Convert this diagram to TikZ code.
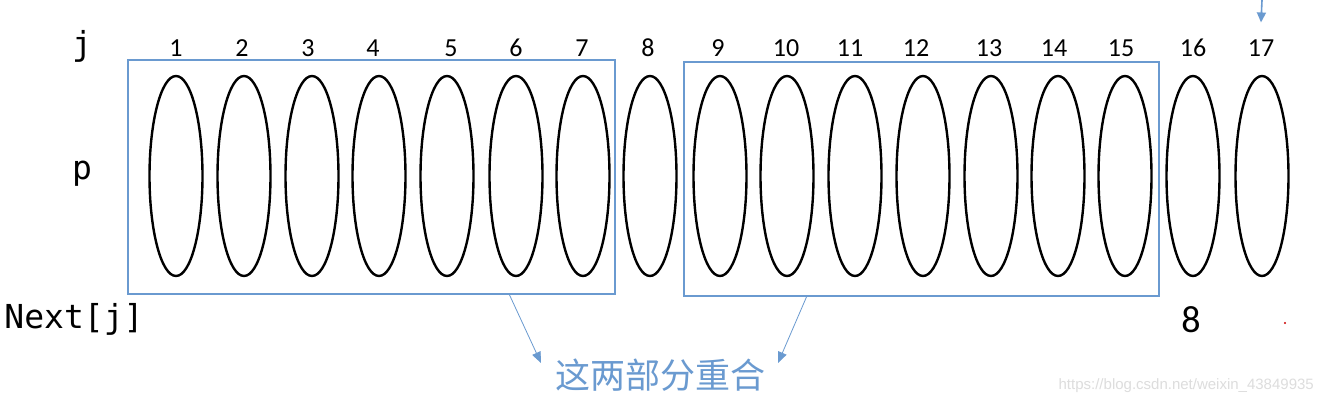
\documentclass[tikz,border=0pt]{standalone}
\usepackage{fontspec}
\setmainfont{Carlito}
\newfontfamily\cjk{Noto Sans CJK SC}
\newfontfamily\monof{DejaVu Sans Mono}
\newfontfamily\wmf{Liberation Sans}
\usetikzlibrary{shapes.geometric,arrows.meta}
\definecolor{bl}{HTML}{6A9AD0}
\definecolor{wmc}{HTML}{DDDDDD}
\begin{document}
\begin{tikzpicture}[x=1pt,y=-1pt,
  oval/.style={draw=black,line width=2.4pt,ellipse,inner sep=0pt,minimum width=53pt,minimum height=200pt},
  idx/.style={font=\fontsize{26}{28}\selectfont,inner sep=0pt},
  rowlab/.style={font=\monof\fontsize{33}{35}\selectfont,inner sep=0pt},
  bluebox/.style={draw=bl,line width=1.8pt,inner sep=0pt},
  barrow/.style={draw=bl,line width=0.8pt,-{Triangle[length=11pt,width=9pt]}}]
\useasboundingbox (0,0) rectangle (1324,404);
\fill[white] (0,0) rectangle (1324,404);
% ellipses and indices
\foreach \i/\x/\lx in {1/176/176,2/244/242,3/312/308,4/379/373,5/447/451,6/516/516,7/583/582,8/650/648,9/720/718,10/787/786,11/855/850,12/923/916,13/991/989,14/1058/1054,15/1125/1121,16/1193/1193,17/1262/1261}{
  \node[oval] (e\i) at (\x,176) {};
  \node[idx] (n\i) at (\lx,48) {\i};
}
% row labels
\node[rowlab] (lj) at (82,46) {j};
\node[rowlab] (lp) at (82,174) {p};
\node[rowlab] (ln) at (74,319) {Next[j]};
\node[font=\fontsize{38}{40}\selectfont,inner sep=0pt] (v8) at (1191,320) {8};
% boxes
\node[bluebox,minimum width=487pt,minimum height=234pt] (L) at (371.5,177) {};
\node[bluebox,minimum width=475pt,minimum height=234pt] (R) at (921.5,179) {};
% caption
\node[font=\cjk\fontsize{35}{37}\selectfont,text=bl,inner sep=0pt] (T) at (660,375) {这两部分重合};
\coordinate (a1) at (541,363);
\coordinate (a2) at (778,363);
\draw[barrow] ([xshift=138pt]L.south) -- (a1);
\draw[barrow] ([xshift=-115pt]R.south) -- (a2);
% top arrow
\coordinate (t0) at (1262,0);
\draw[draw=bl,line width=1.6pt,-{Triangle[length=10pt,width=9pt]}] (t0) -- ([yshift=17pt]n17.north);
% red dot
\fill[red!80!black] (1285,323) circle (1.2pt);
% watermark
\node[font=\wmf\fontsize{15}{17}\selectfont,text=wmc,inner sep=0pt,anchor=east] (wm) at (1314,386) {https://blog.csdn.net/weixin\_43849935};
\end{tikzpicture}
\end{document}
